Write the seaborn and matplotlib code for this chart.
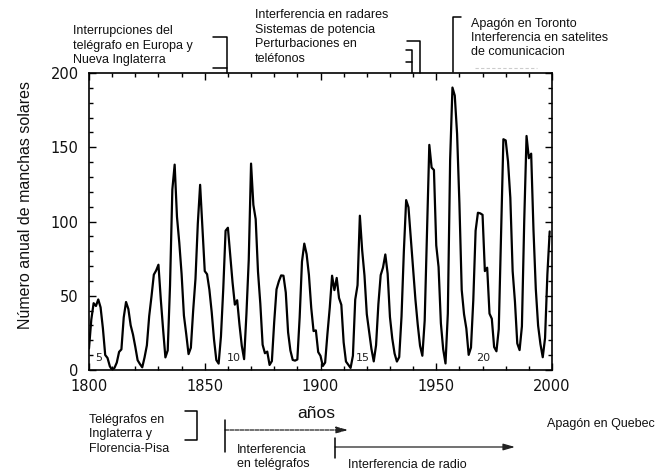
import matplotlib
matplotlib.use("Agg")
import matplotlib.pyplot as plt
import seaborn as sns
import numpy as np
from matplotlib.lines import Line2D
from matplotlib.ticker import MultipleLocator

# annual sunspot numbers, 1800-1999
years = list(range(1800, 2000))
sunspots = [
    14.5, 34.0, 45.0, 43.1, 47.5, 42.2, 28.1, 10.1, 8.1, 2.5,
    0.0, 1.4, 5.0, 12.2, 13.9, 35.4, 45.8, 41.1, 30.1, 23.9,
    15.6, 6.6, 4.0, 1.8, 8.5, 16.6, 36.3, 49.6, 64.2, 67.0,
    70.9, 47.8, 27.5, 8.5, 13.2, 56.9, 121.5, 138.3, 103.2, 85.7,
    64.6, 36.7, 24.2, 10.7, 15.0, 40.1, 61.5, 98.5, 124.7, 96.3,
    66.6, 64.5, 54.1, 39.0, 20.6, 6.7, 4.3, 22.7, 54.8, 93.8,
    95.8, 77.2, 59.1, 44.0, 47.0, 30.5, 16.3, 7.3, 37.6, 74.0,
    139.0, 111.2, 101.6, 66.2, 44.7, 17.0, 11.3, 12.4, 3.4, 6.0,
    32.3, 54.3, 59.7, 63.7, 63.5, 52.2, 25.4, 13.1, 6.8, 6.3,
    7.1, 35.6, 73.0, 85.1, 78.0, 64.0, 41.8, 26.2, 26.7, 12.1,
    9.5, 2.7, 5.0, 24.4, 42.0, 63.5, 53.8, 62.0, 48.5, 43.9,
    18.6, 5.7, 3.6, 1.4, 9.6, 47.4, 57.1, 103.9, 80.6, 63.6,
    37.6, 26.1, 14.2, 5.8, 16.7, 44.3, 63.9, 69.0, 77.8, 64.9,
    35.7, 21.2, 11.1, 5.7, 8.7, 36.1, 79.7, 114.4, 109.6, 88.8,
    67.8, 47.5, 30.6, 16.3, 9.6, 33.2, 92.6, 151.6, 136.3, 134.7,
    83.9, 69.4, 31.5, 13.9, 4.4, 38.0, 141.7, 190.2, 184.8, 159.0,
    112.3, 53.9, 37.6, 27.9, 10.2, 15.1, 47.0, 93.8, 105.9, 105.5,
    104.5, 66.6, 68.9, 38.0, 34.5, 15.5, 12.6, 27.5, 92.5, 155.4,
    154.6, 140.4, 115.9, 66.6, 45.9, 17.9, 13.4, 29.4, 100.2, 157.6,
    142.6, 145.7, 94.3, 54.6, 29.9, 17.5, 8.6, 21.5, 64.3, 93.3,
]

# solar cycle numbers written near the minima
cycle_labels = ["5", "10", "15", "20"]
cycle_years = [1804.3, 1862.4, 1918.1, 1970.4]
cycle_level = 8

x_ticks = [1800, 1850, 1900, 1950, 2000]
y_ticks = [0, 50, 100, 150, 200]

sns.set_theme(style="ticks")
plt.rcParams["font.family"] = ["Liberation Sans", "DejaVu Sans"]

W, H = 670, 475
fig = plt.figure(figsize=(W / 100, H / 100), dpi=100)
ax = fig.add_axes([89 / W, 1 - 370 / H, 463 / W, 297 / H])


def fx(px):
    return px / W


def fy(py):
    return 1 - py / H


sns.lineplot(x=years, y=sunspots, ax=ax, color="black", lw=1.6)

ax.set_xlim(1800, 2000)
ax.set_ylim(0, 200)
ax.set_xticks(x_ticks)
ax.set_yticks(y_ticks)
ax.xaxis.set_minor_locator(MultipleLocator(10))
ax.yaxis.set_minor_locator(MultipleLocator(10))
ax.tick_params(which="both", direction="in", top=True, right=True,
               color="black", width=1.0, labelfontfamily="DejaVu Sans",
               labelsize=10.5, labelcolor="#111111")
ax.tick_params(which="major", length=5)
ax.tick_params(which="minor", length=3)
ax.tick_params(axis="x", which="major", pad=6.5)
ax.tick_params(axis="y", which="major", pad=7.5)
for sp in ax.spines.values():
    sp.set_visible(True)
    sp.set_color("black")
    sp.set_linewidth(1.2)

ax.set_ylabel("Número anual de manchas solares", fontsize=11.5, color="#111111")
ax.yaxis.label.set_va("center")
ax.yaxis.set_label_coords(-0.138, 0.556)
ax.set_xlabel("años", fontsize=12.5, color="#111111")
ax.xaxis.label.set_va("baseline")
ax.xaxis.set_label_coords(0.49, -0.162)

for lab, yr in zip(cycle_labels, cycle_years):
    ax.text(yr, cycle_level, lab, fontsize=8, family="DejaVu Sans",
            ha="center", va="center", color="#222222")


def block(x, y0, lines, step=14.6, size=9):
    for i, s in enumerate(lines):
        fig.text(fx(x), fy(y0 + i * step), s, fontsize=size, ha="left",
                 va="baseline", color="#111111")


def seg(xs, ys, **kw):
    kw.setdefault("lw", 1.1)
    kw.setdefault("color", "black")
    fig.add_artist(Line2D([fx(v) for v in xs], [fy(v) for v in ys],
                          transform=fig.transFigure, **kw))


# top annotations
block(73, 34, ["Interrupciones del", "telégrafo en Europa y", "Nueva Inglaterra"])
seg([213, 227, 227], [37, 37, 73])
seg([213, 227], [68, 68])

block(255, 18, ["Interferencia en radares", "Sistemas de potencia",
                "Perturbaciones en", "teléfonos"])
seg([407, 420, 420], [41, 41, 73])
seg([406, 412, 412], [50, 50, 73])
seg([406, 412], [62, 62])

block(471, 27, ["Apagón en Toronto", "Interferencia en satelites",
                "de comunicacion"], step=14)
seg([461, 453, 453], [17, 17, 72])
seg([475, 537], [68, 68], lw=0.8, color="#cccccc", linestyle=(0, (3, 2)))

# bottom annotations
block(89, 423, ["Telégrafos en", "Inglaterra y", "Florencia-Pisa"], step=14.5)
seg([185, 197, 197, 185], [411, 411, 440, 440])

seg([225, 225], [420, 452])
ax.annotate("", xy=(fx(348), fy(430)), xytext=(fx(225), fy(430)),
            xycoords="figure fraction", textcoords="figure fraction",
            arrowprops=dict(arrowstyle="-|>,head_length=0.7,head_width=0.2",
                            lw=0.9, color="#222222", linestyle=(0, (3, 1)),
                            shrinkA=0, shrinkB=0, mutation_scale=10))
block(237, 453, ["Interferencia", "en telégrafos"], step=14.5)

seg([335, 335], [438, 458])
ax.annotate("", xy=(fx(515), fy(447)), xytext=(fx(335), fy(447)),
            xycoords="figure fraction", textcoords="figure fraction",
            arrowprops=dict(arrowstyle="-|>,head_length=0.7,head_width=0.2",
                            lw=0.9, color="#222222",
                            shrinkA=0, shrinkB=0, mutation_scale=10))
block(348, 468, ["Interferencia de radio"])

block(547, 427, ["Apagón en Quebec"])

fig.savefig("out.png", dpi=100, facecolor="white")
